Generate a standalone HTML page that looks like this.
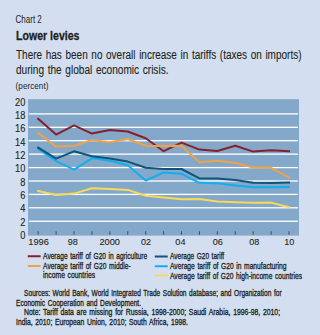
<!DOCTYPE html>
<html><head><meta charset="utf-8"><style>
html,body{margin:0;padding:0;width:320px;height:335px;overflow:hidden;background:#d3dff0;}
svg{display:block;font-family:"Liberation Sans",sans-serif;}
</style></head><body>
<svg width="320" height="335" viewBox="0 0 320 335">
<rect x="0" y="0" width="320" height="335" fill="#d3dff0"/>
<rect x="28" y="99.2" width="271" height="136.4" fill="#84a8c9"/>
<rect x="28.8" y="113.25" width="269.2" height="1.3" fill="#fff"/>
<rect x="28.8" y="126.65" width="269.2" height="1.3" fill="#fff"/>
<rect x="28.8" y="140.05" width="269.2" height="1.3" fill="#fff"/>
<rect x="28.8" y="153.50" width="269.2" height="1.3" fill="#fff"/>
<rect x="28.8" y="166.95" width="269.2" height="1.3" fill="#fff"/>
<rect x="28.8" y="180.35" width="269.2" height="1.3" fill="#fff"/>
<rect x="28.8" y="193.75" width="269.2" height="1.3" fill="#fff"/>
<rect x="28.8" y="207.15" width="269.2" height="1.3" fill="#fff"/>
<rect x="28.8" y="220.60" width="269.2" height="1.3" fill="#fff"/>
<rect x="37.7" y="231.3" width="1" height="3.4" fill="#4a4a4a"/>
<rect x="55.614000000000004" y="231.3" width="1" height="3.4" fill="#4a4a4a"/>
<rect x="73.528" y="231.3" width="1" height="3.4" fill="#4a4a4a"/>
<rect x="91.44200000000001" y="231.3" width="1" height="3.4" fill="#4a4a4a"/>
<rect x="109.35600000000001" y="231.3" width="1" height="3.4" fill="#4a4a4a"/>
<rect x="127.27000000000001" y="231.3" width="1" height="3.4" fill="#4a4a4a"/>
<rect x="145.18400000000003" y="231.3" width="1" height="3.4" fill="#4a4a4a"/>
<rect x="163.098" y="231.3" width="1" height="3.4" fill="#4a4a4a"/>
<rect x="181.012" y="231.3" width="1" height="3.4" fill="#4a4a4a"/>
<rect x="198.926" y="231.3" width="1" height="3.4" fill="#4a4a4a"/>
<rect x="216.84000000000003" y="231.3" width="1" height="3.4" fill="#4a4a4a"/>
<rect x="234.75400000000002" y="231.3" width="1" height="3.4" fill="#4a4a4a"/>
<rect x="252.668" y="231.3" width="1" height="3.4" fill="#4a4a4a"/>
<rect x="270.582" y="231.3" width="1" height="3.4" fill="#4a4a4a"/>
<rect x="288.49600000000004" y="231.3" width="1" height="3.4" fill="#4a4a4a"/>
<polyline points="38.20,191 56.11,194.9 74.03,193.6 91.94,188.3 109.86,188.9 127.77,189.9 145.68,195.8 163.60,197.6 181.51,199.2 199.43,199 217.34,201.5 235.25,202.2 253.17,202.8 271.08,202.6 289.00,207.2" fill="none" stroke="#f9d95a" stroke-width="2" stroke-linejoin="round" stroke-linecap="square"/>
<polyline points="38.20,118.8 56.11,134.6 74.03,125.4 91.94,133.6 109.86,129.9 127.77,131.5 145.68,138.3 163.60,151.2 181.51,142.6 199.43,149.6 217.34,151 235.25,145.8 253.17,151.6 271.08,150.3 289.00,151.1" fill="none" stroke="#86202c" stroke-width="2" stroke-linejoin="round" stroke-linecap="square"/>
<polyline points="38.20,133 56.11,146.6 74.03,146 91.94,139.9 109.86,142.3 127.77,139 145.68,145.8 163.60,146 181.51,145.8 199.43,162.2 217.34,160.7 235.25,162.8 253.17,167.6 271.08,167.8 289.00,177.3" fill="none" stroke="#f0a248" stroke-width="2" stroke-linejoin="round" stroke-linecap="square"/>
<polyline points="38.20,149 56.11,161.2 74.03,169.6 91.94,158.3 109.86,160.8 127.77,165.2 145.68,180.5 163.60,172.5 181.51,173.8 199.43,182.8 217.34,183.3 235.25,185.4 253.17,187.2 271.08,187.3 289.00,187.0" fill="none" stroke="#14adee" stroke-width="2" stroke-linejoin="round" stroke-linecap="square"/>
<polyline points="38.20,147.7 56.11,158.7 74.03,151.3 91.94,156.2 109.86,158.6 127.77,161.6 145.68,167.8 163.60,168.9 181.51,169.0 199.43,178.4 217.34,178.4 235.25,180 253.17,182.8 271.08,183 289.00,182.5" fill="none" stroke="#0f5579" stroke-width="2" stroke-linejoin="round" stroke-linecap="square"/>
<text x="15.6" y="22.85" font-size="10.2" font-weight="normal" text-anchor="start" fill="#231f20" stroke="#231f20" stroke-width="0.05" textLength="26.2" lengthAdjust="spacingAndGlyphs">Chart 2</text>
<text x="16" y="39.9" font-size="12.3" font-weight="bold" text-anchor="start" fill="#231f20" stroke="#231f20" stroke-width="0.3" textLength="63.5" lengthAdjust="spacingAndGlyphs">Lower levies</text>
<text x="16" y="58.5" font-size="12" font-weight="normal" text-anchor="start" fill="#231f20" stroke="#231f20" stroke-width="0.1" word-spacing="1" textLength="285.5" lengthAdjust="spacingAndGlyphs">There has been no overall increase in tariffs (taxes on imports)</text>
<text x="16" y="74.1" font-size="12" font-weight="normal" text-anchor="start" fill="#231f20" stroke="#231f20" stroke-width="0.1" word-spacing="1" textLength="152.5" lengthAdjust="spacingAndGlyphs">during the global economic crisis.</text>
<text x="15.6" y="89.4" font-size="8.9" font-weight="normal" text-anchor="start" fill="#231f20" textLength="32.8" lengthAdjust="spacingAndGlyphs">(percent)</text>
<text x="25.4" y="105.8" font-size="10.3" font-weight="normal" text-anchor="end" fill="#231f20" stroke="#231f20" stroke-width="0.12" textLength="10.3" lengthAdjust="spacingAndGlyphs">20</text>
<text x="25.4" y="119.12" font-size="10.3" font-weight="normal" text-anchor="end" fill="#231f20" stroke="#231f20" stroke-width="0.12" textLength="10.3" lengthAdjust="spacingAndGlyphs">18</text>
<text x="25.4" y="132.44" font-size="10.3" font-weight="normal" text-anchor="end" fill="#231f20" stroke="#231f20" stroke-width="0.12" textLength="10.3" lengthAdjust="spacingAndGlyphs">16</text>
<text x="25.4" y="145.76" font-size="10.3" font-weight="normal" text-anchor="end" fill="#231f20" stroke="#231f20" stroke-width="0.12" textLength="10.3" lengthAdjust="spacingAndGlyphs">14</text>
<text x="25.4" y="159.07999999999998" font-size="10.3" font-weight="normal" text-anchor="end" fill="#231f20" stroke="#231f20" stroke-width="0.12" textLength="10.3" lengthAdjust="spacingAndGlyphs">12</text>
<text x="25.4" y="172.39999999999998" font-size="10.3" font-weight="normal" text-anchor="end" fill="#231f20" stroke="#231f20" stroke-width="0.12" textLength="10.3" lengthAdjust="spacingAndGlyphs">10</text>
<text x="25.4" y="185.72" font-size="10.3" font-weight="normal" text-anchor="end" fill="#231f20" stroke="#231f20" stroke-width="0.12" textLength="5.15" lengthAdjust="spacingAndGlyphs">8</text>
<text x="25.4" y="199.04000000000002" font-size="10.3" font-weight="normal" text-anchor="end" fill="#231f20" stroke="#231f20" stroke-width="0.12" textLength="5.15" lengthAdjust="spacingAndGlyphs">6</text>
<text x="25.4" y="212.36" font-size="10.3" font-weight="normal" text-anchor="end" fill="#231f20" stroke="#231f20" stroke-width="0.12" textLength="5.15" lengthAdjust="spacingAndGlyphs">4</text>
<text x="25.4" y="225.68" font-size="10.3" font-weight="normal" text-anchor="end" fill="#231f20" stroke="#231f20" stroke-width="0.12" textLength="5.15" lengthAdjust="spacingAndGlyphs">2</text>
<text x="25.4" y="239.0" font-size="10.3" font-weight="normal" text-anchor="end" fill="#231f20" stroke="#231f20" stroke-width="0.12" textLength="5.15" lengthAdjust="spacingAndGlyphs">0</text>
<text x="38.6" y="245.3" font-size="9.9" font-weight="normal" text-anchor="middle" fill="#231f20" stroke="#231f20" stroke-width="0.1" textLength="20.6" lengthAdjust="spacingAndGlyphs">1996</text>
<text x="72.8" y="245.3" font-size="9.9" font-weight="normal" text-anchor="middle" fill="#231f20" stroke="#231f20" stroke-width="0.1" textLength="10.1" lengthAdjust="spacingAndGlyphs">98</text>
<text x="109.7" y="245.3" font-size="9.9" font-weight="normal" text-anchor="middle" fill="#231f20" stroke="#231f20" stroke-width="0.1" textLength="20.6" lengthAdjust="spacingAndGlyphs">2000</text>
<text x="146.1" y="245.3" font-size="9.9" font-weight="normal" text-anchor="middle" fill="#231f20" stroke="#231f20" stroke-width="0.1" textLength="10.1" lengthAdjust="spacingAndGlyphs">02</text>
<text x="180.4" y="245.3" font-size="9.9" font-weight="normal" text-anchor="middle" fill="#231f20" stroke="#231f20" stroke-width="0.1" textLength="10.1" lengthAdjust="spacingAndGlyphs">04</text>
<text x="217.8" y="245.3" font-size="9.9" font-weight="normal" text-anchor="middle" fill="#231f20" stroke="#231f20" stroke-width="0.1" textLength="10.1" lengthAdjust="spacingAndGlyphs">06</text>
<text x="254.2" y="245.3" font-size="9.9" font-weight="normal" text-anchor="middle" fill="#231f20" stroke="#231f20" stroke-width="0.1" textLength="10.1" lengthAdjust="spacingAndGlyphs">08</text>
<text x="289.2" y="245.3" font-size="9.9" font-weight="normal" text-anchor="middle" fill="#231f20" stroke="#231f20" stroke-width="0.1" textLength="10.1" lengthAdjust="spacingAndGlyphs">10</text>
<rect x="27.75" y="255.25" width="12.9" height="2" fill="#86202c"/>
<rect x="27.75" y="265" width="12.9" height="2" fill="#f0a248"/>
<rect x="154.75" y="255.5" width="13" height="2" fill="#0f5579"/>
<rect x="154.75" y="265.25" width="13" height="2" fill="#14adee"/>
<rect x="154.75" y="274.5" width="13" height="2" fill="#f9d95a"/>
<text x="43.1" y="259" font-size="9.3" font-weight="normal" text-anchor="start" fill="#231f20" stroke="#231f20" stroke-width="0.32" word-spacing="1.0" textLength="104" lengthAdjust="spacingAndGlyphs">Average tariff of G20 in agriculture</text>
<text x="43.1" y="268.75" font-size="9.3" font-weight="normal" text-anchor="start" fill="#231f20" stroke="#231f20" stroke-width="0.32" word-spacing="1.0" textLength="87.6" lengthAdjust="spacingAndGlyphs">Average tariff of G20 middle-</text>
<text x="43.1" y="278.1" font-size="9.3" font-weight="normal" text-anchor="start" fill="#231f20" stroke="#231f20" stroke-width="0.32" word-spacing="1.0" textLength="52" lengthAdjust="spacingAndGlyphs">income countries</text>
<text x="170" y="259.25" font-size="9.3" font-weight="normal" text-anchor="start" fill="#231f20" stroke="#231f20" stroke-width="0.32" word-spacing="1.0" textLength="54.2" lengthAdjust="spacingAndGlyphs">Average G20 tariff</text>
<text x="170" y="269" font-size="9.3" font-weight="normal" text-anchor="start" fill="#231f20" stroke="#231f20" stroke-width="0.32" word-spacing="1.0" textLength="116.5" lengthAdjust="spacingAndGlyphs">Average tariff of G20 in manufacturing</text>
<text x="170" y="278.6" font-size="9.3" font-weight="normal" text-anchor="start" fill="#231f20" stroke="#231f20" stroke-width="0.32" word-spacing="1.0" textLength="132" lengthAdjust="spacingAndGlyphs">Average tariff of G20 high-income countries</text>
<text x="24.1" y="296" font-size="8.7" font-weight="normal" text-anchor="start" fill="#231f20" stroke="#231f20" stroke-width="0.32" word-spacing="1.0" textLength="257.5" lengthAdjust="spacingAndGlyphs">Sources: World Bank, World Integrated Trade Solution database; and Organization for</text>
<text x="16" y="305.9" font-size="8.7" font-weight="normal" text-anchor="start" fill="#231f20" stroke="#231f20" stroke-width="0.32" word-spacing="1.0" textLength="125" lengthAdjust="spacingAndGlyphs">Economic Cooperation and Development.</text>
<text x="24.1" y="315.3" font-size="8.7" font-weight="normal" text-anchor="start" fill="#231f20" stroke="#231f20" stroke-width="0.32" word-spacing="1.0" textLength="256" lengthAdjust="spacingAndGlyphs">Note: Tariff data are missing for Russia, 1998-2000; Saudi Arabia, 1996-98, 2010;</text>
<text x="16" y="324.8" font-size="8.7" font-weight="normal" text-anchor="start" fill="#231f20" stroke="#231f20" stroke-width="0.32" word-spacing="1.0" textLength="172" lengthAdjust="spacingAndGlyphs">India, 2010; European Union, 2010; South Africa, 1998.</text>
</svg>
</body></html>
